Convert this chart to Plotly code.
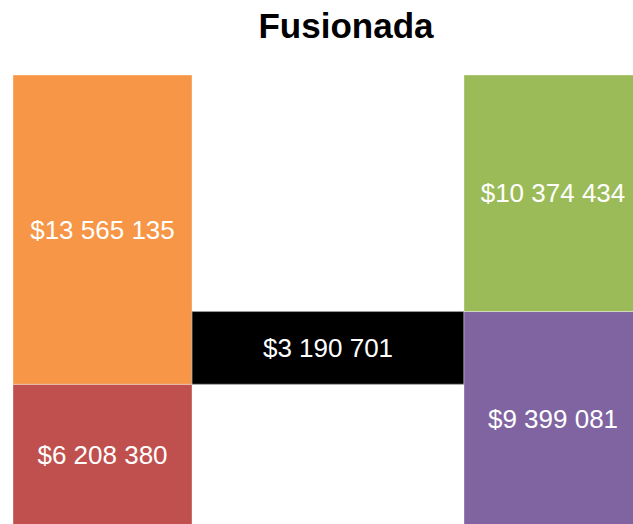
import plotly.graph_objects as go

# Data
columns = ["Inicial", "Fusión", "Final"]
segment_labels = ["Parte A", "Parte B", "Fusión", "Parte C", "Parte D"]
segment_column = ["Inicial", "Inicial", "Fusión", "Final", "Final"]
segment_values = [6208380, 13565135, 3190701, 9399081, 10374434]
title_text = "Fusionada"

# Styles
colors = ["#C0504D", "#F79646", "#000000", "#8064A2", "#9BBB59"]
col_widths = {"Inicial": 179, "Fusión": 272, "Final": 178}

# bases: stacked within columns; middle bar floats on top of the first left segment
bases = [0, segment_values[0], segment_values[0], 0, segment_values[3]]
total = segment_values[0] + segment_values[1]

# column centres from cumulative widths
centers = {}
acc = 0
for c in columns:
    centers[c] = acc + col_widths[c] / 2
    acc += col_widths[c]

def fmt(v):
    return "$" + f"{v:,}".replace(",", " ")

fig = go.Figure()
for lab, col, val, base, colr in zip(segment_labels, segment_column, segment_values, bases, colors):
    fig.add_trace(go.Bar(
        name=lab,
        x=[centers[col]],
        y=[val],
        base=[base],
        width=[col_widths[col]],
        marker=dict(color=colr, line=dict(color="rgba(255,255,255,0.35)" if colr != "#000000" else "rgba(160,160,160,0.8)", width=1)),
        text=[fmt(val)],
        textposition="inside",
        insidetextanchor="middle",
        textangle=0,
        textfont=dict(family="Liberation Sans, Arial, sans-serif", size=26, color="#FFFFFF"),
        hoverinfo="skip",
    ))

fig.update_layout(
    width=633, height=524,
    margin=dict(l=13, r=0, t=75, b=0),
    paper_bgcolor="white", plot_bgcolor="white",
    barmode="overlay",
    showlegend=False,
    title=dict(text="<b>" + title_text + "</b>", x=346 / 633, xref="container", xanchor="center",
               y=1 - 26 / 524, yref="container", yanchor="middle",
               font=dict(family="Liberation Sans, Arial, sans-serif", size=35, color="#000000")),
    xaxis=dict(range=[0, 620], visible=False, fixedrange=True),
    yaxis=dict(range=[total * 0.0041, total], visible=False, fixedrange=True),
)

fig.write_html("out.html", config={"displayModeBar": False},
               post_script="document.body.style.margin='0px';document.body.style.overflow='hidden';")
